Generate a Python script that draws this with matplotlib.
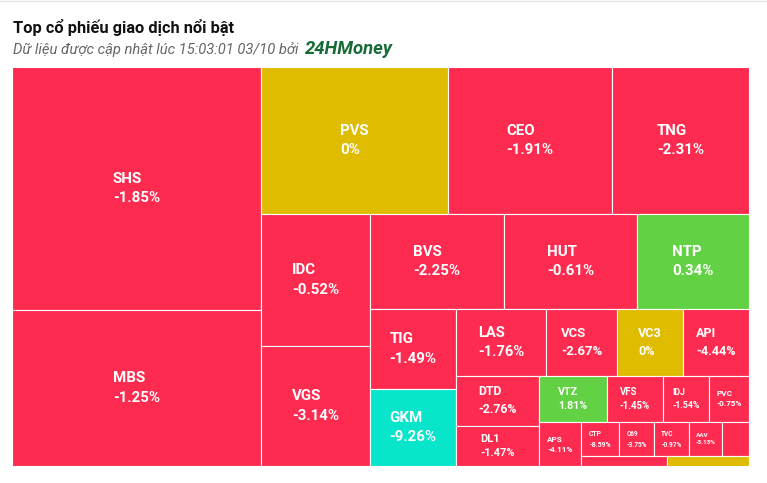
import matplotlib
matplotlib.use('Agg')
import matplotlib.pyplot as plt
from matplotlib.patches import Rectangle

# Du lieu: ma CK, gia tri giao dich (ty trong dien tich), % thay doi
ma_ck = ['SHS', 'MBS', 'PVS', 'CEO', 'TNG', 'IDC', 'VGS', 'BVS', 'HUT', 'NTP',
         'TIG', 'GKM', 'LAS', 'VCS', 'VC3', 'API', 'DTD', 'DL1', 'VTZ', 'VFS',
         'IDJ', 'PVC', 'APS', 'CTP', 'C69', 'TVC', 'AAV', '', '', '']
gia_tri = [605.1, 388.4, 274.9, 241.1, 201.4, 143.9, 130.8, 127.3, 126.4, 106.4,
           68.8, 66.2, 60.3, 47.6, 44.2, 44.2, 41.5, 33.2, 31.3, 25.8,
           21.2, 18.4, 18.5, 12.9, 11.9, 11.9, 11.2, 9.2, 8.6, 8.2]
thay_doi = [-1.85, -1.25, 0, -1.91, -2.31, -0.52, -3.14, -2.25, -0.61, 0.34,
            -1.49, -9.26, -1.76, -2.67, 0, -4.44, -2.76, -1.47, 1.81, -1.45,
            -1.54, -0.75, -4.11, -8.59, -3.75, -0.97, -3.13, -1.0, -1.0, 0]
ma_san = ['GKM']  # giam san

RED = '#FE2B51'
YELLOW = '#DFBC00'
GREEN = '#62D244'
FLOOR = '#07E6CA'

W, H = 737, 399  # kich thuoc vung treemap (px)


def mau(ma, v):
    if ma in ma_san:
        return FLOOR
    if v > 0:
        return GREEN
    if v == 0:
        return YELLOW
    return RED


def squarified(values, x, y, w, h):
    # doi huong sau moi hang (giong highcharts "squarified")
    tong = sum(values)
    areas = [v / tong * w * h for v in values]
    out = []
    d = 0
    grp = []

    def ratio(a, b):
        return max(a / b, b / a)

    for a in areas:
        if grp:
            s = h if d == 0 else w
            last = grp[-1]
            t_old = sum(grp) / s
            t_new = (sum(grp) + a) / s
            if ratio(t_new, last / t_new) > ratio(t_old, last / t_old):
                t = sum(grp) / s
                if d == 0:
                    yy = y
                    for g in grp:
                        out.append((x, yy, t, g / t))
                        yy += g / t
                    x += t
                    w -= t
                else:
                    xx = x
                    for g in grp:
                        out.append((xx, y, g / t, t))
                        xx += g / t
                    y += t
                    h -= t
                d = 1 - d
                grp = []
        grp.append(a)
    s = h if d == 0 else w
    t = sum(grp) / s
    if d == 0:
        yy = y
        for g in grp:
            out.append((x, yy, t, g / t))
            yy += g / t
    else:
        xx = x
        for g in grp:
            out.append((xx, y, g / t, t))
            xx += g / t
    return out


fig = plt.figure(figsize=(7.67, 4.83), dpi=100)
ax = fig.add_axes([12 / 767, 17 / 483, W / 767, H / 483])
ax.set_xlim(0, W)
ax.set_ylim(H, 0)
ax.axis('off')

rects = squarified(gia_tri, 0, 0, W, H)
for (x, y, w, h), ma, v in zip(rects, ma_ck, thay_doi):
    ax.add_patch(Rectangle((x, y), w, h, facecolor=mau(ma, v),
                           edgecolor='white', linewidth=0.8))
    if not ma or w < 30 or h < 20:
        continue
    fs_px = min(15, 0.19 * (w * h) ** 0.5)
    ax.text(x + w / 2, y + h / 2, f'{ma}\n{v:g}%', color='white',
            fontsize=fs_px * 0.72, fontweight='bold', family='Roboto',
            ha='center', va='center', multialignment='left', linespacing=1.5)

# tieu de
fig.text(13 / 767, 1 - 33 / 483, 'Top cổ phiếu giao dịch nổi bật',
         fontsize=11.8, fontweight='bold', family='Roboto', color='#111111',
         va='baseline', ha='left')
sub = fig.text(13 / 767, 1 - 54 / 483, 'Dữ liệu được cập nhật lúc 15:03:01 03/10 bởi ',
               fontsize=10.65, style='italic', family='Roboto', color='#666666',
               va='baseline', ha='left')
fig.canvas.draw()
fig.text(0, 0, '24HMoney', fontsize=13.3, style='italic', fontweight='bold',
         family='Roboto', color='#176B37', va='baseline', ha='left',
         transform=matplotlib.transforms.offset_copy(
             fig.transFigure, fig=fig, x=sub.get_window_extent().x1 * 72 / 100 + 2,
             y=(483 - 54) * 0.72, units='points'))

fig.add_artist(plt.Line2D([0, 1], [1 - 1 / 483, 1 - 1 / 483],
                          transform=fig.transFigure, color='#e4e4e4', lw=1))

fig.savefig('out.png', dpi=100)
